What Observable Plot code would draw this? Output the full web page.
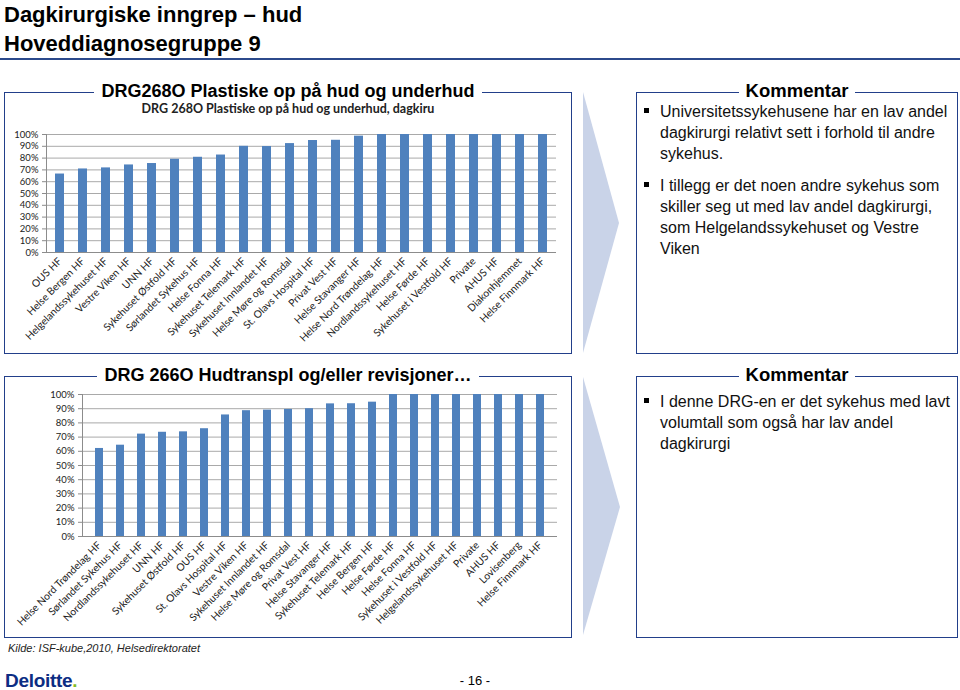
<!DOCTYPE html>
<html><head><meta charset="utf-8">
<script src="https://cdn.jsdelivr.net/npm/d3@7"></script>
<script src="https://cdn.jsdelivr.net/npm/@observablehq/plot@0.6"></script>
<style>
body{margin:0;background:#fff;font-family:"Liberation Sans",Arial,sans-serif;color:#000;}
#page{position:relative;width:960px;height:690px;overflow:hidden;background:#fff;}
.abs{position:absolute;white-space:nowrap;}
.box{position:absolute;border:1.5px solid #223f8a;box-sizing:border-box;}
.ctitle{position:absolute;text-align:center;font-weight:bold;font-size:18px;line-height:18px;}
.ctitle span{background:#fff;padding:0 7px;}
.bul{position:absolute;font-size:16px;line-height:21px;white-space:nowrap;color:#111;}
.bul p{margin:0 0 11px 0;position:relative;padding-left:16px;}
.bul p::before{content:"";position:absolute;left:0;top:7px;width:5px;height:5px;background:#000;}
.chart{position:absolute;}
.chart svg{background:transparent;max-width:none;}
</style>
</head><body>
<div id="page">
  <div class="abs" style="left:4px;top:0px;font-size:22px;font-weight:bold;line-height:29px;">Dagkirurgiske inngrep – hud<br>Hoveddiagnosegruppe 9</div>
  <div class="abs" style="left:0;top:58px;width:960px;height:1.5px;background:#2c4a8c;"></div>

  <!-- top panel -->
  <div class="box" style="left:4px;top:92px;width:568px;height:262px;"></div>
  <div class="ctitle" style="left:4px;top:82px;width:568px;"><span>DRG268O Plastiske op på hud og underhud</span></div>
  <div class="abs" style="left:4px;top:103px;width:568px;text-align:center;font-family:Lato,sans-serif;font-weight:bold;font-size:12.5px;line-height:12px;color:#222;">DRG 268O Plastiske op på hud og underhud, dagkiru</div>
  <div class="chart" id="c1" style="left:0px;top:125px;width:562px;"></div>

  <svg class="abs" style="left:580px;top:88px;" width="44" height="270"><polygon points="3,4 39,135 3,265" fill="#c9d3e8"/></svg>

  <div class="box" style="left:636px;top:92px;width:322px;height:262px;"></div>
  <div class="ctitle" style="left:636px;top:82px;width:322px;font-size:18.5px;"><span>Kommentar</span></div>
  <div class="bul" style="left:644px;top:101px;">
    <p>Universitetssykehusene har en lav andel<br>dagkirurgi relativt sett i forhold til andre<br>sykehus.</p>
    <p>I tillegg er det noen andre sykehus som<br>skiller seg ut med lav andel dagkirurgi,<br>som Helgelandssykehuset og Vestre<br>Viken</p>
  </div>

  <!-- bottom panel -->
  <div class="box" style="left:4px;top:376px;width:568px;height:262px;"></div>
  <div class="ctitle" style="left:4px;top:366px;width:568px;"><span>DRG 266O Hudtranspl og/eller revisjoner…</span></div>
  <div class="chart" id="c2" style="left:0px;top:384px;width:562px;"></div>

  <svg class="abs" style="left:580px;top:373px;" width="44" height="266"><polygon points="3,4 40,134 3,262" fill="#c9d3e8"/></svg>

  <div class="box" style="left:636px;top:376px;width:322px;height:262px;"></div>
  <div class="ctitle" style="left:636px;top:366px;width:322px;font-size:18.5px;"><span>Kommentar</span></div>
  <div class="bul" style="left:644px;top:391px;">
    <p>I denne DRG-en er det sykehus med lavt<br>volumtall som også har lav andel<br>dagkirurgi</p>
  </div>

  <div class="abs" style="left:8px;top:642px;font-size:11px;font-style:italic;color:#222;">Kilde: ISF-kube,2010, Helsedirektoratet</div>
  <div class="abs" style="left:5px;top:670px;font-size:19px;font-weight:bold;color:#0c2d83;letter-spacing:-0.3px;">Deloitte<span style="color:#86bc25;">.</span></div>
  <div class="abs" style="left:445px;top:673px;width:60px;text-align:center;font-size:13px;">- 16 -</div>
</div>
<script>
const yTicks = [0, 10, 20, 30, 40, 50, 60, 70, 80, 90, 100];

const cats268 = ["OUS HF", "Helse Bergen HF", "Helgelandssykehuset HF", "Vestre Viken HF", "UNN HF",
  "Sykehuset Østfold HF", "Sørlandet Sykehus HF", "Helse Fonna HF", "Sykehuset Telemark HF",
  "Sykehuset Innlandet HF", "Helse Møre og Romsdal", "St. Olavs Hospital HF", "Privat Vest HF",
  "Helse Stavanger HF", "Helse Nord Trøndelag HF", "Nordlandssykehuset HF", "Helse Førde HF",
  "Sykehuset i Vestfold HF", "Private", "AHUS HF", "Diakonhjemmet", "Helse Finnmark HF"];
const vals268 = [66.5, 70.8, 71.7, 74.2, 75.4, 79.0, 80.7, 82.6, 90.0, 89.8, 92.3, 94.9, 95.1, 98.6,
  100, 100, 100, 100, 100, 100, 100, 100];

const cats266 = ["Helse Nord Trøndelag HF", "Sørlandet Sykehus HF", "Nordlandssykehuset HF", "UNN HF",
  "Sykehuset Østfold HF", "OUS HF", "St. Olavs Hospital HF", "Vestre Viken HF", "Sykehuset Innlandet HF",
  "Helse Møre og Romsdal", "Privat Vest HF", "Helse Stavanger HF", "Sykehuset Telemark HF",
  "Helse Bergen HF", "Helse Førde HF", "Helse Fonna HF", "Sykehuset i Vestfold HF",
  "Helgelandssykehuset HF", "Private", "AHUS HF", "Lovisenberg", "Helse Finnmark HF"];
const vals266 = [62.0, 64.3, 72.1, 73.4, 73.7, 75.9, 85.6, 88.6, 89.0, 89.5, 90.0, 93.4, 93.5, 94.6,
  100, 100, 100, 100, 100, 100, 100, 100];

function barChart(cats, vals, o) {
  const data = cats.map((c, i) => ({c, v: vals[i]}));
  return Plot.plot({
    width: o.width, height: o.height,
    marginLeft: o.ml, marginRight: o.mr, marginTop: o.mt, marginBottom: o.mb,
    style: {background: "transparent", fontFamily: "Lato, sans-serif", fontSize: "9.5px", color: "#222", overflow: "visible"},
    x: {domain: cats, paddingInner: 0.6, paddingOuter: 0.3, label: null},
    y: {domain: [0, 100], label: null},
    marks: [
      Plot.gridY(yTicks, {stroke: "#a9a9a9", strokeOpacity: 1}),
      Plot.barY(data, {x: "c", y: "v", fill: "#4f81bd"}),
      Plot.ruleY([0], {stroke: "#8c8c8c"}),
      Plot.frame({anchor: "left", stroke: "#8c8c8c"}),
      Plot.axisY(yTicks, {tickFormat: d => d + "%", tickSize: 4, tickPadding: 4, stroke: "#8c8c8c", label: null}),
      Plot.axisX({tickRotate: -45, tickSize: 0, tickPadding: 7, fontSize: 10.3, label: null})
    ]
  });
}

document.getElementById("c1").append(barChart(cats268, vals268, {width: 562, height: 219, ml: 46, mr: 6, mt: 9, mb: 92}));
document.getElementById("c2").append(barChart(cats266, vals266, {width: 562, height: 247, ml: 82, mr: 5, mt: 10, mb: 95}));
</script>
</body></html>
